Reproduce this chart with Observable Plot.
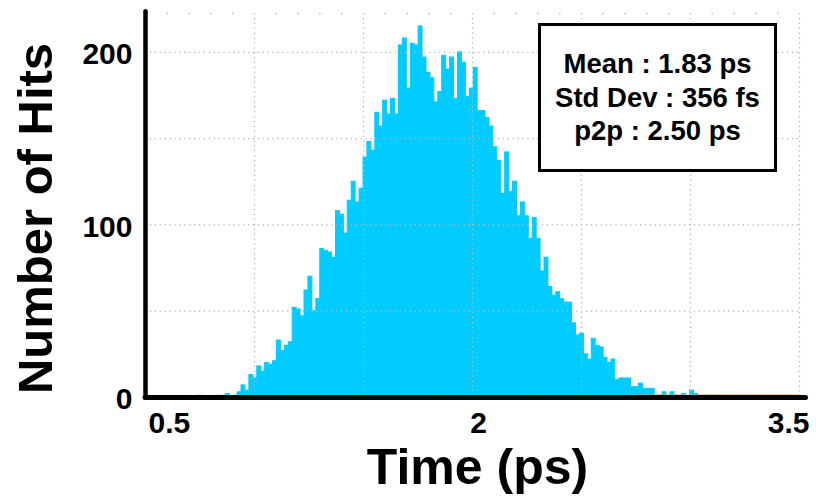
<!DOCTYPE html>
<html>
<head>
<meta charset="utf-8">
<script src="https://cdn.jsdelivr.net/npm/d3@7"></script>
<script src="https://cdn.jsdelivr.net/npm/@observablehq/plot@0.6"></script>
<style>
  html, body { margin: 0; padding: 0; background: #fff; }
  #wrap { position: relative; width: 816px; height: 501px; overflow: hidden; background: #fff; }
  #stats {
    position: absolute; left: 538px; top: 23px; width: 239px; height: 149px;
    box-sizing: border-box; border: 3.5px solid #000; background: #fff;
    font-family: "Liberation Sans", Arial, sans-serif; font-weight: bold; font-size: 27.5px;
    display: flex; flex-direction: column; justify-content: center; align-items: center;
    line-height: 33.5px; color: #000; white-space: nowrap;
  }
</style>
</head>
<body>
<div id="wrap"></div>
<script>
// ---- data ----
const binStart = 0.742;     // ps, left edge of first bin
const binWidth = 0.01805;   // ps
const counts = [
  1, 0, 0, 0, 0, 1, 1, 2, 0, 1, 3,
  7, 4, 13, 11, 18, 15, 20, 19, 21, 33,
  27, 30, 32, 52, 51, 47, 62, 70, 50, 57,
  86, 85, 84, 81, 108, 106, 95, 114, 125, 113,
  121, 139, 148, 143, 165, 157, 172, 164, 173, 164,
  204, 208, 179, 205, 204, 215, 197, 188, 185, 171,
  177, 198, 190, 197, 173, 200, 194, 174, 179, 191,
  166, 166, 162, 157, 145, 137, 118, 142, 119, 125,
  105, 113, 105, 92, 104, 92, 73, 81, 64, 59,
  61, 57, 55, 55, 43, 36, 37, 25, 22, 34,
  30, 29, 23, 20, 22, 10, 11, 11, 11, 6,
  6, 8, 5, 5, 5, 1, 1, 3, 1, 3,
  1, 0, 2, 0, 4, 2, 1, 1, 1, 1,
  1, 0, 0, 0, 0, 0, 0, 0, 1
];
const xTickValues = [0.5, 2, 3.5];
const xTickLabels = ["0.5", "2", "3.5"];
const yTickValues = [0, 100, 200];
const yTickLabels = ["0", "100", "200"];
const xGrid = [1, 1.5, 2, 2.5, 3, 3.5];
const yGrid = [50, 100, 150, 200];
const minorX = [0.6,0.7,0.8,0.9,1.1,1.2,1.3,1.4,1.6,1.7,1.8,1.9,2.1,2.2,2.3,2.4,2.6,2.7,2.8,2.9,3.1,3.2,3.3,3.4];
const statsLines = ["Mean : 1.83 ps", "Std Dev : 356 fs", "p2p : 2.50 ps"];
const xLabel = "Time (ps)";
const yLabel = "Number of Hits";
const xDomain = [0.5, 3.5];
const yDomain = [0, 222.5];
const orangeSpan = [2.75, 3.5];

const bins = counts.map((c, i) => ({
  x1: binStart + i * binWidth,
  x2: binStart + (i + 1) * binWidth,
  count: c
})).filter(d => d.count > 0);

const cyan = "#00CCFF";
const gridStyle = {stroke: "#b4b4b4", strokeWidth: 1.2, strokeDasharray: "1.3,3.6"};

const chart = Plot.plot({
  width: 816,
  height: 501,
  marginLeft: 145,
  marginRight: 17,
  marginTop: 13,
  marginBottom: 104,
  style: {background: "#fff", fontFamily: "'Liberation Sans', Arial, sans-serif", fontWeight: "bold", color: "#000", overflow: "visible"},
  x: {domain: xDomain, axis: null},
  y: {domain: yDomain, axis: null},
  marks: [
    Plot.rectY(bins, {x1: "x1", x2: "x2", y: "count", fill: cyan, stroke: cyan, strokeWidth: 1}),
    Plot.ruleX(xGrid, gridStyle),
    Plot.ruleY(yGrid, gridStyle),
    Plot.dot(minorX, {x: d => d, frameAnchor: "top", r: 0.9, fill: "#c4c4c4", stroke: null}),
    Plot.ruleY([0], {x1: orangeSpan[0], x2: orangeSpan[1], stroke: "#f0a050", strokeWidth: 1, dy: -2.5}),
    Plot.ruleY([0], {x1: xDomain[0], x2: 3.53, stroke: "#000", strokeWidth: 5, strokeLinecap: "round"}),
    Plot.ruleX([xDomain[0]], {y1: 0, y2: 223.5, stroke: "#000", strokeWidth: 4.5, strokeLinecap: "round"}),
    // y tick labels
    Plot.text(yTickValues, {y: d => d, frameAnchor: "left", text: (d, i) => yTickLabels[i],
      textAnchor: "end", dx: -13, dy: 2, fontSize: 30, fill: "#000", ariaLabel: "ytick"}),
    // x tick labels
    Plot.text([0], {x: i => xTickValues[i], frameAnchor: "bottom", text: i => xTickLabels[i],
      textAnchor: "start", lineAnchor: "top", dx: 3, dy: 14, fontSize: 30, fill: "#000", ariaLabel: "xtick"}),
    Plot.text([1], {x: i => xTickValues[i], frameAnchor: "bottom", text: i => xTickLabels[i],
      textAnchor: "middle", lineAnchor: "top", dx: 6, dy: 14, fontSize: 30, fill: "#000", ariaLabel: "xtick"}),
    Plot.text([2], {x: i => xTickValues[i], frameAnchor: "bottom", text: i => xTickLabels[i],
      textAnchor: "end", lineAnchor: "top", dx: 10, dy: 14, fontSize: 30, fill: "#000", ariaLabel: "xtick"}),
    // axis titles
    Plot.text([xLabel], {frameAnchor: "bottom", text: d => d, dx: 5, dy: 70, fontSize: 50,
      lineAnchor: "middle", fill: "#000"}),
    Plot.text([yLabel], {frameAnchor: "left", text: d => d, rotate: -90, dx: -109, dy: 13,
      fontSize: 49, lineAnchor: "middle", textAnchor: "middle", fill: "#000"})
  ]
});

const wrap = document.getElementById("wrap");
wrap.appendChild(chart);

// widen tick label glyphs like the reference
function stretch(label, factor) {
  d3.select(chart).selectAll(`g[aria-label="${label}"] text`).each(function() {
    const w = this.getComputedTextLength();
    this.setAttribute("textLength", (w * factor).toFixed(1));
    this.setAttribute("lengthAdjust", "spacingAndGlyphs");
  });
}
stretch("ytick", 1.3);
stretch("xtick", 1.1);

const box = document.createElement("div");
box.id = "stats";
box.innerHTML = statsLines.map(s => `<div>${s}</div>`).join("");
wrap.appendChild(box);
</script>
</body>
</html>
